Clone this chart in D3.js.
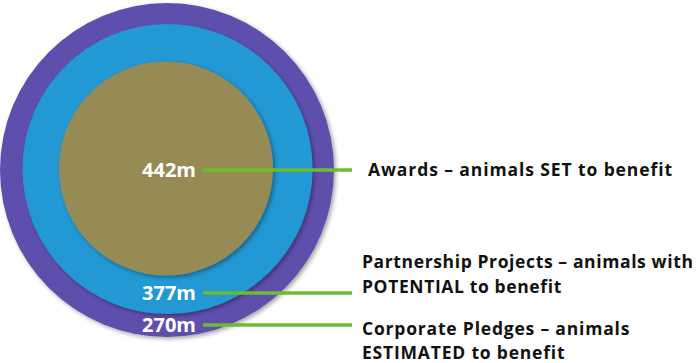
<!DOCTYPE html>
<html><head><meta charset="utf-8">
<script src="https://cdn.jsdelivr.net/npm/d3@7"></script>
<style>body{margin:0;background:#fff}svg{display:block}</style>
</head><body>
<script>
// Data
const categories = ["Corporate Pledges", "Partnership Projects", "Awards"];
const valueLabels = ["270m", "377m", "442m"];
const descLines = [
  ["Corporate Pledges – animals", "ESTIMATED to benefit"],
  ["Partnership Projects – animals with", "POTENTIAL to benefit"],
  ["Awards – animals SET to benefit"]
];
const colors = ["#5f50ad", "#2298d4", "#968a55"];

const W = 700, H = 363;
const svg = d3.select("body").append("svg").attr("width", W).attr("height", H);

const defs = svg.append("defs");
const f = defs.append("filter").attr("id", "sh").attr("x", "-10%").attr("y", "-10%").attr("width", "130%").attr("height", "130%");
f.append("feDropShadow").attr("dx", 2).attr("dy", 2).attr("stdDeviation", 2).attr("flood-color", "#000").attr("flood-opacity", 0.35);

// ring index -> radius / centre (layout scales)
const rScale = d3.scaleOrdinal().domain(d3.range(3)).range([167, 145, 107]);
const cxScale = d3.scaleOrdinal().domain(d3.range(3)).range([167, 167.5, 166]);
const cyScale = d3.scaleOrdinal().domain(d3.range(3)).range([170, 169, 168.5]);
// label rows
const labelY = d3.scaleOrdinal().domain(d3.range(3)).range([325, 293, 170]);
const descY = d3.scaleOrdinal().domain(d3.range(3)).range([335, 268, 176]);
const lineGap = d3.scaleOrdinal().domain(d3.range(3)).range([23.5, 25, 25]);
const spacing = d3.scaleOrdinal().domain(d3.range(3)).range([0.8, 0.62, 0.9]);

svg.selectAll("circle.ring").data(categories).join("circle")
  .attr("class", "ring")
  .attr("cx", (d, i) => cxScale(i))
  .attr("cy", (d, i) => cyScale(i))
  .attr("r", (d, i) => rScale(i))
  .attr("fill", (d, i) => colors[i])
  .attr("filter", "url(#sh)");

const font = "'Open Sans', sans-serif";

svg.selectAll("line.lead").data(categories).join("line")
  .attr("class", "lead")
  .attr("x1", 203).attr("x2", 352)
  .attr("y1", (d, i) => labelY(i)).attr("y2", (d, i) => labelY(i))
  .attr("stroke", "#6cbd2d").attr("stroke-width", 3.5);

svg.selectAll("text.val").data(valueLabels).join("text")
  .attr("class", "val")
  .attr("x", 196).attr("y", (d, i) => labelY(i) + 7)
  .attr("text-anchor", "end")
  .attr("font-family", font).attr("font-weight", 700).attr("font-size", 20)
  .attr("fill", "#fff")
  .text(d => d);

const desc = svg.selectAll("text.desc").data(descLines).join("text")
  .attr("class", "desc")
  .attr("x", (d, i) => i === 2 ? 368 : 362)
  .attr("y", (d, i) => descY(i))
  .attr("font-family", font).attr("font-weight", 700).attr("font-size", 17.5)
  .attr("letter-spacing", (d, i) => spacing(i))
  .attr("fill", "#111");
desc.each(function (d, i) {
  d3.select(this).selectAll("tspan").data(d).join("tspan")
    .attr("x", i === 2 ? 368 : 362)
    .attr("dy", (t, j) => j === 0 ? 0 : lineGap(i))
    .text(t => t);
});
</script>
</body></html>
